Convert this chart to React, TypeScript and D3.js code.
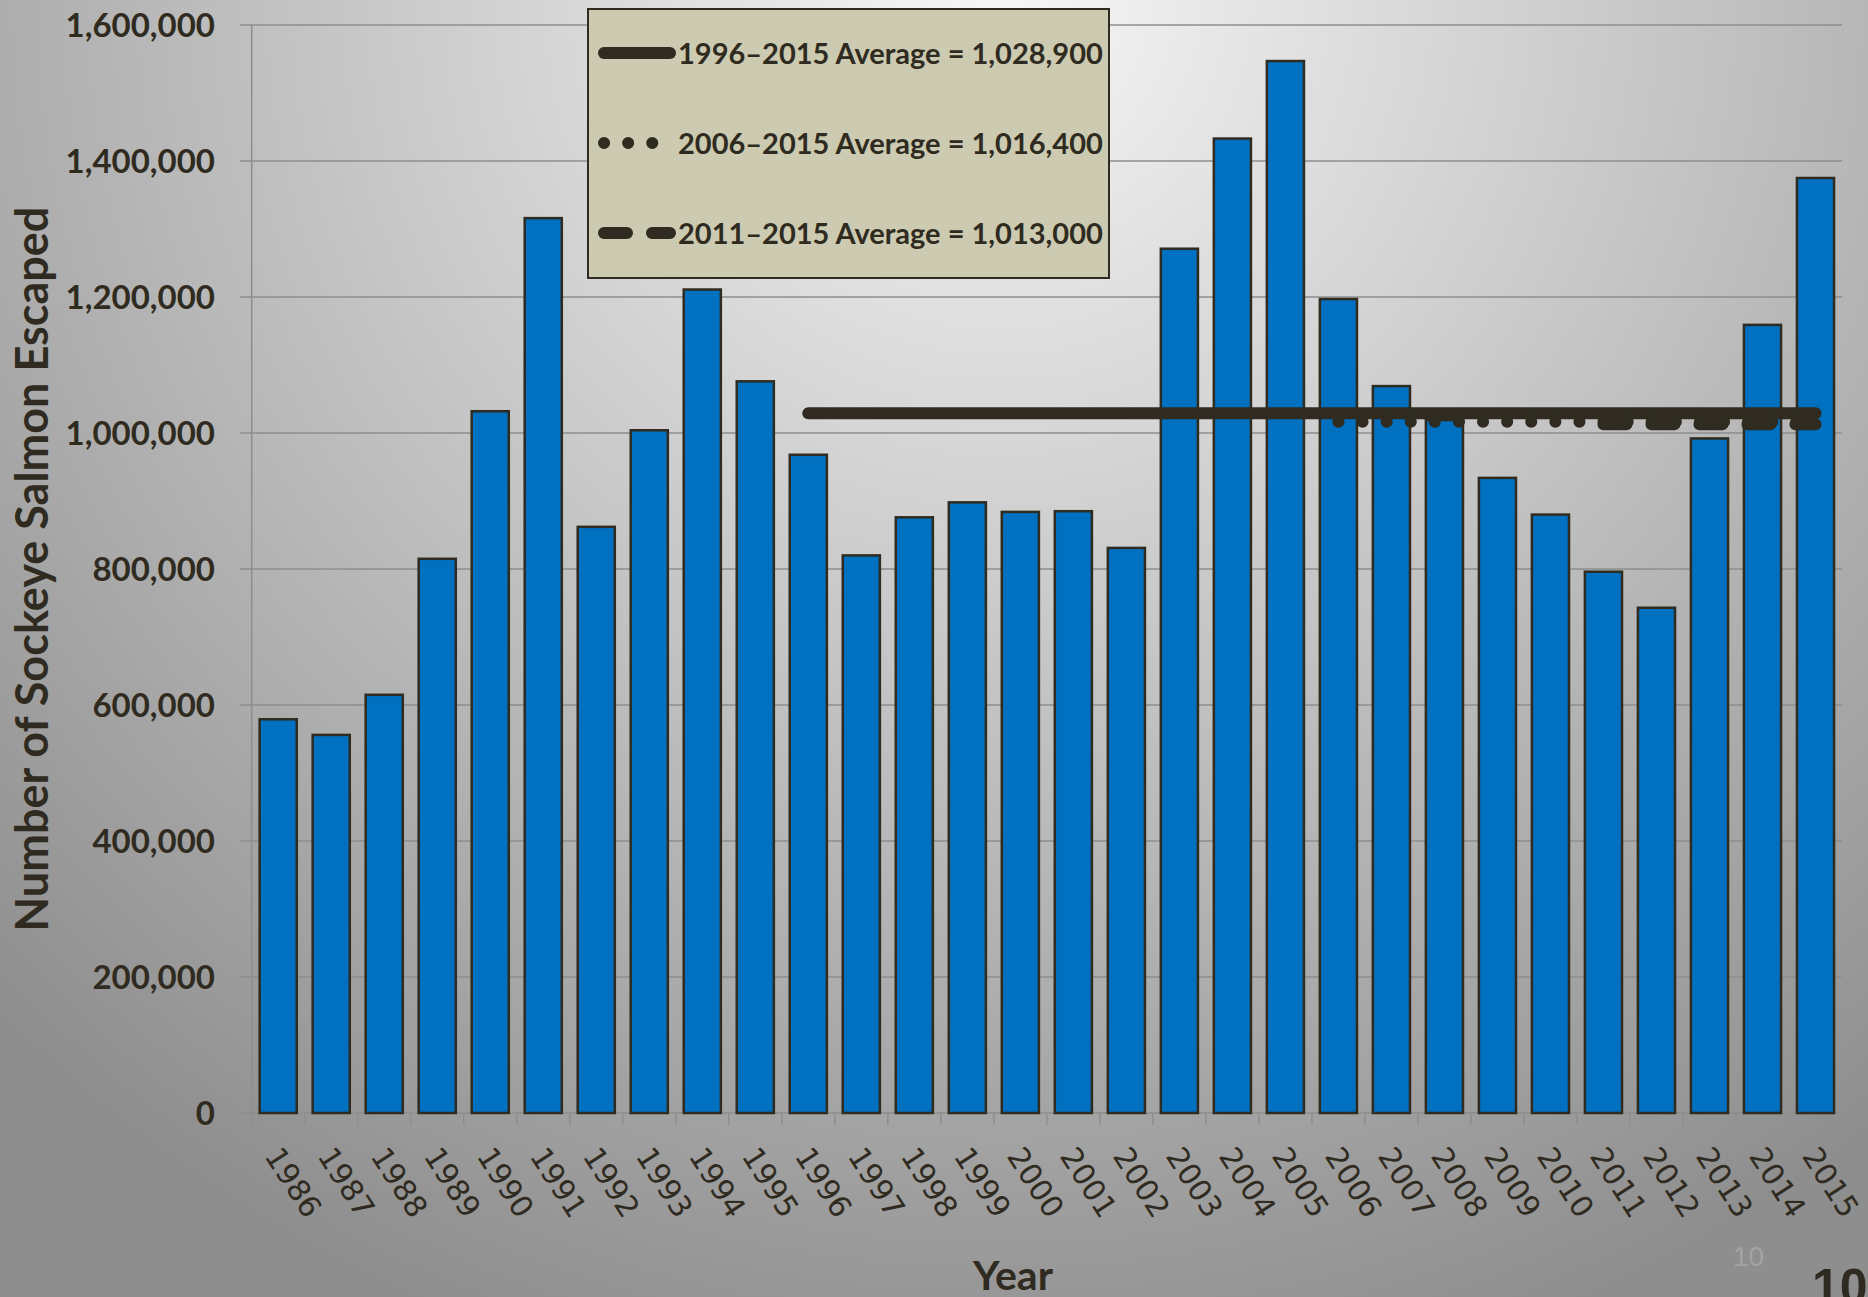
import * as d3 from 'd3';

const years = [
  '1986', '1987', '1988', '1989', '1990', '1991', '1992', '1993', '1994', '1995',
  '1996', '1997', '1998', '1999', '2000', '2001', '2002', '2003', '2004', '2005',
  '2006', '2007', '2008', '2009', '2010', '2011', '2012', '2013', '2014', '2015'
];
const escaped = [
  579000, 556000, 615000, 815000, 1032000, 1316000, 862000, 1004000, 1211000, 1076000,
  968000, 820000, 876000, 898000, 884000, 885000, 831000, 1271000, 1433000, 1547000,
  1197000, 1069000, 1019000, 934000, 880000, 796000, 743000, 992000, 1159000, 1375000
];
const yTicks = [0, 200000, 400000, 600000, 800000, 1000000, 1200000, 1400000, 1600000];

const avgLabels = [
  '1996–2015 Average = 1,028,900',
  '2006–2015 Average = 1,016,400',
  '2011–2015 Average = 1,013,000'
];
const avgFrom = ['1996', '2006', '2011'];
const avgTo = ['2015', '2015', '2015'];
const avgValues = [1028900, 1016400, 1013000];

const W = 1868;
const H = 1297;
const INK = '#2f2b20';
const BOLD = 'Lato, "Open Sans", sans-serif';

// stroke patterns for the three average lines: solid, round dot, dash
const avgDash = [undefined, '0.1 24', '23 25'];

export default function App() {
  const left = 251.7;
  const right = 1842;
  const top = 25;
  const bottom = 1113;

  const x = d3.scaleBand<string>().domain(years).range([left, right]).paddingInner(0.3).paddingOuter(0.15);
  const y = d3.scaleLinear().domain([0, 1600000]).range([bottom, top]);
  const step = x.step();
  const fmt = d3.format(',');
  const center = (yr: string) => (x(yr) ?? 0) + x.bandwidth() / 2;

  // legend layout
  const lx = 588;
  const ly = 9;
  const rowY = (i: number) => ly + 45 + i * 90;

  return (
    <svg width={W} height={H} style={{ position: 'absolute', left: 0, top: 0, display: 'block' }}>
      <defs>
        <radialGradient id="bg" gradientUnits="userSpaceOnUse" cx={1000} cy={0} r={1420}>
          <stop offset="0" stopColor="#f7f7f7" />
          <stop offset="1" stopColor="#8e8e8e" />
        </radialGradient>
      </defs>
      <rect x={0} y={0} width={W} height={H} fill="url(#bg)" />

      {/* gridlines */}
      {yTicks.map(t => (
        <line key={t} x1={240} x2={right} y1={y(t)} y2={y(t)} stroke="#8e8e8e" strokeWidth={1.5} />
      ))}
      <line x1={left} x2={left} y1={top} y2={bottom} stroke="#8e8e8e" strokeWidth={1.5} />
      {years.map((yr, i) => (
        <line key={yr} x1={left + i * step} x2={left + i * step} y1={bottom} y2={bottom + 12} stroke="#8e8e8e" strokeWidth={1.5} />
      ))}
      <line x1={right} x2={right} y1={bottom} y2={bottom + 12} stroke="#8e8e8e" strokeWidth={1.5} />

      {/* y labels */}
      {yTicks.map(t => (
        <text key={t} x={215} y={y(t)} dy="0.36em" textAnchor="end" fontFamily={BOLD} fontWeight={700} fontSize={33} fill={INK}>
          {fmt(t)}
        </text>
      ))}

      {/* bars */}
      {years.map((yr, i) => (
        <rect
          key={yr}
          x={x(yr)}
          y={y(escaped[i])}
          width={x.bandwidth()}
          height={bottom - y(escaped[i])}
          fill="#0070c0"
          stroke={INK}
          strokeWidth={2.5}
        />
      ))}

      {/* average lines */}
      {avgValues.map((v, i) => (
        <line
          key={i}
          x1={center(avgFrom[i])}
          x2={center(avgTo[i])}
          y1={y(v)}
          y2={y(v)}
          stroke={INK}
          strokeWidth={12}
          strokeLinecap="round"
          strokeDasharray={avgDash[i]}
        />
      ))}

      {/* x labels */}
      {years.map(yr => {
        const cx = center(yr) + 4;
        const cy = 1144;
        return (
          <text
            key={yr}
            x={cx}
            y={cy}
            dy="0.73em"
            transform={`rotate(57 ${cx} ${cy})`}
            fontFamily='"DejaVu Sans", sans-serif'
            fontSize={30}
            fill={INK}
          >
            {yr}
          </text>
        );
      })}

      {/* axis titles */}
      <text x={1013} y={1290} textAnchor="middle" fontFamily={BOLD} fontWeight={700} fontSize={41} fill={INK}>
        Year
      </text>
      <text
        x={48}
        y={569}
        transform="rotate(-90 48 569)"
        textAnchor="middle"
        fontFamily={BOLD}
        fontWeight={700}
        fontSize={45}
        fill={INK}
      >
        Number of Sockeye Salmon Escaped
      </text>

      {/* legend */}
      <rect x={lx} y={ly} width={521} height={269} fill="#cccab1" stroke={INK} strokeWidth={2} />
      {avgLabels.map((lab, i) => (
        <g key={lab}>
          <line
            x1={604}
            x2={670}
            y1={rowY(i) - 1}
            y2={rowY(i) - 1}
            stroke={INK}
            strokeWidth={12}
            strokeLinecap="round"
            strokeDasharray={avgDash[i]}
          />
          <text x={678} y={rowY(i)} dy="0.36em" fontFamily={BOLD} fontWeight={700} fontSize={29} fill={INK}>
            {lab}
          </text>
        </g>
      ))}

      {/* slide number */}
      <text x={1733} y={1266} fontFamily='"Liberation Sans", Arial, sans-serif' fontSize={28} fill="#a3a3a3">
        10
      </text>
      <text x={1812} y={1304} fontFamily='"Liberation Sans", Arial, sans-serif' fontWeight={700} fontSize={50} fill={INK}>
        10
      </text>
    </svg>
  );
}
